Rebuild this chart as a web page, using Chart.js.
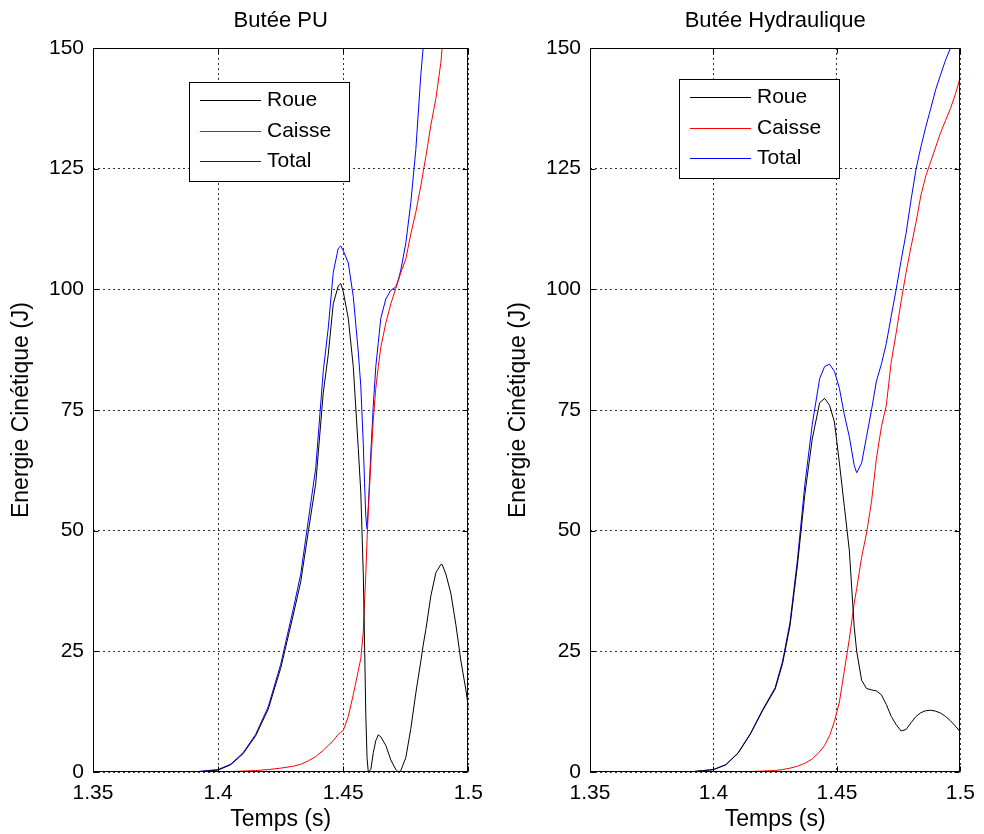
<!DOCTYPE html>
<html>
<head>
<meta charset="utf-8">
<title>Energie cinétique</title>
<script src="https://cdn.jsdelivr.net/npm/chart.js@4.4.1/dist/chart.umd.min.js"></script>
<style>
  body { margin: 0; background: #fff; }
  #wrap { position: relative; width: 984px; height: 834px; }
  canvas { position: absolute; top: 0; }
  #chartPU { left: 0; }
  #chartHydro { left: 492px; }
</style>
</head>
<body>
<div id="wrap">
  <canvas id="chartPU" width="492" height="834"></canvas>
  <canvas id="chartHydro" width="492" height="834"></canvas>
</div>
<script>
'use strict';

var seriesNames = ['Roue', 'Caisse', 'Total'];
var seriesColors = ['#000000', '#ff0000', '#0000ff'];
var xTicks = [1.35, 1.4, 1.45, 1.5];
var yTicks = [0, 25, 50, 75, 100, 125, 150];

// Butée PU
var puTime = [1.35, 1.39, 1.40, 1.405, 1.41, 1.415, 1.42, 1.425, 1.43, 1.433, 1.436, 1.439, 1.442, 1.444, 1.446, 1.448, 1.449, 1.45,
  1.452, 1.454, 1.456, 1.457, 1.458, 1.4585, 1.459, 1.4595, 1.46, 1.461, 1.462, 1.463, 1.464, 1.465, 1.467, 1.469, 1.471, 1.472,
  1.473, 1.475, 1.477, 1.479, 1.481, 1.482, 1.483, 1.485, 1.487, 1.489, 1.4895, 1.491, 1.493, 1.495, 1.497, 1.499, 1.5];
var puRoue = [0, 0, 0.4, 1.5, 3.8, 7.5, 13, 21.5, 32.5, 39.4, 49.7, 59.8, 78.5, 86.5, 97, 100.7, 101.2, 99.5,
  94, 84, 67, 58, 41, 27, 12, 3, 0, 0.5, 4, 6.5, 7.7, 7.3, 5.5, 2.5, 0.5, 0,
  0.3, 3, 9, 16.4, 23, 26.5, 29.5, 36.5, 41.3, 43, 43, 41, 37, 30.5, 23, 17, 13.4];
var puCaisse = [0, 0, 0, 0.1, 0.2, 0.3, 0.5, 0.8, 1.2, 1.6, 2.3, 3.2, 4.5, 5.5, 6.5, 7.8, 8.2, 8.6,
  11.5, 16, 21, 23.5, 29, 35, 41, 48, 54, 64, 73, 79.5, 84, 88, 93, 97, 100.2, 101.8,
  103.5, 106.3, 111.5, 116, 121.5, 124.5, 127.5, 134, 139.5, 147, 150, null, null, null, null, null, null];
var puTotal = [0, 0, 0.5, 1.6, 4, 7.8, 13.5, 22.3, 33.7, 41, 52, 63, 83, 92, 103.5, 108.5, 109, 108,
  105.5, 98.5, 87, 80, 68, 60, 53, 50.4, 55, 66, 76, 84, 89, 94, 98, 99.8, 100.5, 102,
  104, 109.6, 118, 129, 144.5, 150.5, null, null, null, null, null, null, null, null, null, null, null];

// Butée Hydraulique
var hyTime = [1.35, 1.39, 1.40, 1.405, 1.41, 1.415, 1.42, 1.425, 1.428, 1.431, 1.434, 1.437, 1.44, 1.443, 1.445, 1.447, 1.449,
  1.451, 1.453, 1.455, 1.457, 1.458, 1.46, 1.462, 1.464, 1.466, 1.468, 1.47, 1.472, 1.474, 1.476, 1.478, 1.48,
  1.482, 1.484, 1.486, 1.488, 1.49, 1.492, 1.494, 1.496, 1.498, 1.5];
var hyRoue = [0, 0, 0.5, 1.5, 3.9, 7.9, 12.8, 17.2, 22.5, 30.3, 42.8, 57.5, 69, 76.5, 77.4, 76, 72.5,
  64, 55, 46, 30, 25, 19, 17.3, 17, 16.8, 16, 14, 11.5, 9.8, 8.5, 8.8, 10.2,
  11.5, 12.3, 12.7, 12.8, 12.6, 12.2, 11.5, 10.6, 9.5, 8.3];
var hyCaisse = [0, 0, 0, 0, 0.1, 0.1, 0.2, 0.3, 0.5, 0.8, 1.2, 1.8, 2.7, 4.2, 5.5, 7.5, 10.5,
  14.5, 21, 27.5, 35, 38, 44.5, 49.5, 56, 65, 71.5, 76, 85, 91, 97.5, 103.5, 108.8,
  113.8, 119.5, 123.5, 126.5, 129.5, 132.5, 135, 137.5, 140.5, 144];
var hyTotal = [0, 0, 0.5, 1.5, 4, 8, 13, 17.5, 23, 31, 44, 59.5, 72, 81.5, 84, 84.5, 83,
  79.5, 74, 69.5, 63.5, 62, 64, 69.5, 75, 81, 84.5, 88.8, 94.5, 100, 106, 111.6, 118.5,
  124.8, 129.5, 133.7, 137.5, 141.4, 144.5, 147.5, 150, null, null];

Chart.defaults.font.family = '"Liberation Sans", Arial, sans-serif';
Chart.defaults.color = '#000';

var toPoints = function (time, values) {
  var pts = [];
  for (var i = 0; i < time.length; i++) {
    pts.push({ x: time[i], y: values[i] });
  }
  return pts;
};

// frame, inner ticks, title and legend box, drawn like the matlab axes
var matlabBox = {
  id: 'matlabBox',
  afterDraw: function (chart, args, opts) {
    var ctx = chart.ctx;
    var area = chart.chartArea;
    var xs = chart.scales.x;
    var ys = chart.scales.y;
    var L = Math.round(area.left) + 0.5;
    var R = Math.round(area.right) - 0.5;
    var T = Math.round(area.top) + 0.5;
    var B = Math.round(area.bottom) - 0.5;
    ctx.save();
    ctx.setLineDash([]);
    ctx.strokeStyle = '#000';
    ctx.lineWidth = 1;
    ctx.strokeRect(L, T, R - L, B - T);

    ctx.beginPath();
    xTicks.forEach(function (v) {
      var px = Math.round(xs.getPixelForValue(v)) + 0.5;
      ctx.moveTo(px, B); ctx.lineTo(px, B - 5);
      ctx.moveTo(px, T); ctx.lineTo(px, T + 5);
    });
    yTicks.forEach(function (v) {
      var py = Math.round(ys.getPixelForValue(v)) + 0.5;
      ctx.moveTo(L, py); ctx.lineTo(L + 5, py);
      ctx.moveTo(R, py); ctx.lineTo(R - 5, py);
    });
    ctx.stroke();

    ctx.fillStyle = '#000';
    ctx.font = '22px "Liberation Sans", Arial, sans-serif';
    ctx.textAlign = 'center';
    ctx.textBaseline = 'middle';
    ctx.fillText(opts.title, (area.left + area.right) / 2, 21);

    var x = Math.round(area.left + opts.left);
    var y = Math.round(area.top + opts.top);
    ctx.fillStyle = '#fff';
    ctx.fillRect(x, y, 160, 99);
    ctx.strokeStyle = '#000';
    ctx.strokeRect(x + 0.5, y + 0.5, 160, 99);
    ctx.font = '21px "Liberation Sans", Arial, sans-serif';
    ctx.textAlign = 'left';
    for (var i = 0; i < seriesNames.length; i++) {
      var ly = Math.round(y + 18 + i * 30.7);
      ctx.fillStyle = seriesColors[i];
      ctx.fillRect(x + 11, ly, 61, 1);
      ctx.fillStyle = '#000';
      ctx.fillText(seriesNames[i], x + 78, ly);
    }
    ctx.restore();
  }
};

var makeChart = function (canvasId, title, time, roue, caisse, total, layout) {
  var values = [roue, caisse, total];
  var datasets = [];
  for (var i = 0; i < seriesNames.length; i++) {
    datasets.push({
      label: seriesNames[i],
      data: toPoints(time, values[i]),
      borderColor: seriesColors[i],
      borderWidth: 1,
      pointRadius: 0,
      fill: false,
      tension: 0,
      spanGaps: false
    });
  }
  return new Chart(document.getElementById(canvasId), {
    type: 'line',
    data: { datasets: datasets },
    options: {
      responsive: false,
      animation: false,
      layout: { padding: { left: 0, right: layout.padRight, top: 48, bottom: 0 } },
      plugins: {
        legend: { display: false },
        tooltip: { enabled: false },
        title: { display: false },
        matlabBox: { title: title, left: layout.legendLeft, top: layout.legendTop }
      },
      scales: {
        x: {
          type: 'linear',
          min: 1.35,
          max: 1.5,
          afterBuildTicks: function (scale) {
            scale.ticks = xTicks.map(function (v) { return { value: v }; });
          },
          afterFit: function (scale) { scale.height = 62; },
          ticks: {
            padding: 9,
            maxRotation: 0,
            font: { size: 21 },
            callback: function (v) { return String(Math.round(v * 100) / 100); }
          },
          grid: { color: '#333', lineWidth: 1, drawTicks: false },
          border: { display: false, dash: [2, 3] },
          title: { display: true, text: 'Temps (s)', font: { size: 23 }, padding: { top: 0, bottom: 1 } }
        },
        y: {
          min: 0,
          max: 150,
          afterBuildTicks: function (scale) {
            scale.ticks = yTicks.map(function (v) { return { value: v }; });
          },
          afterFit: function (scale) { scale.width = layout.axisWidth; },
          ticks: { padding: 9, font: { size: 21 } },
          grid: { color: '#333', lineWidth: 1, drawTicks: false },
          border: { display: false, dash: [2, 3] },
          title: { display: true, text: 'Energie Cinétique (J)', font: { size: 23 }, padding: { top: layout.yTitlePad, bottom: 0 } }
        }
      }
    },
    plugins: [matlabBox]
  });
};

makeChart('chartPU', 'Butée PU', puTime, puRoue, puCaisse, puTotal,
  { axisWidth: 93, padRight: 23, yTitlePad: 8, legendLeft: 96, legendTop: 34 });
makeChart('chartHydro', 'Butée Hydraulique', hyTime, hyRoue, hyCaisse, hyTotal,
  { axisWidth: 98, padRight: 18, yTitlePad: 13, legendLeft: 89, legendTop: 31 });
</script>
</body>
</html>
